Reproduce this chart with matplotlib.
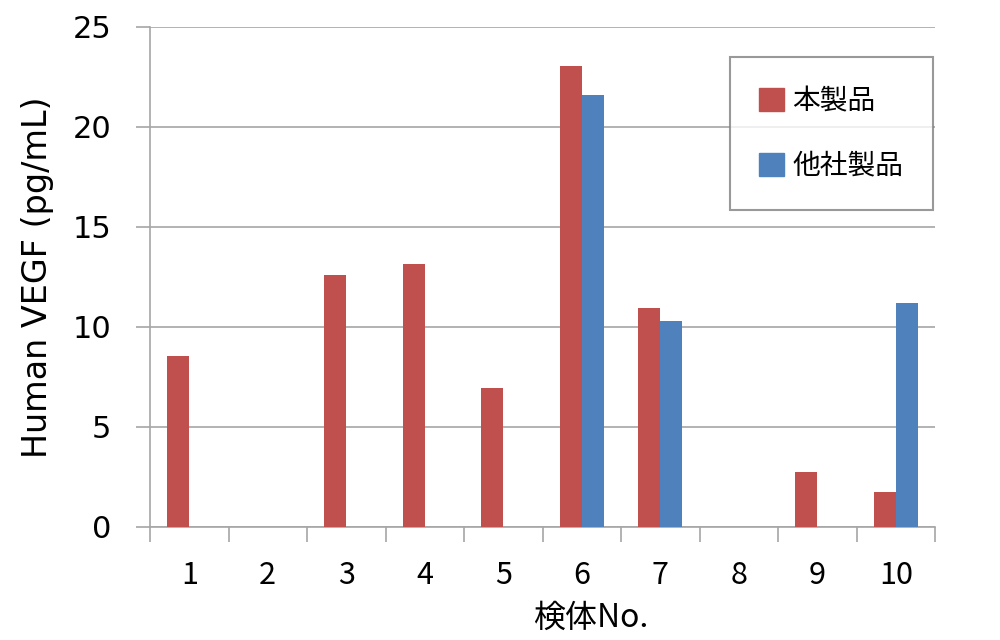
import matplotlib
matplotlib.use("Agg")
import matplotlib.pyplot as plt
import matplotlib.patches as mpatches
import numpy as np

plt.rcParams['font.family'] = ['DejaVu Sans', 'Noto Sans CJK JP']

# --- data ---
samples   = ["1", "2", "3", "4", "5", "6", "7", "8", "9", "10"]
ours      = [8.55, 0, 12.6, 13.15, 6.95, 23.05, 10.95, 0, 2.75, 1.75]
others    = [0, 0, 0, 0, 0, 21.6, 10.3, 0, 0, 11.2]
series_names = ["本製品", "他社製品"]

RED  = "#C0504D"
BLUE = "#4F81BD"
GRID = "#A6A6A6"
JP   = ['Noto Sans CJK JP', 'DejaVu Sans']

fig = plt.figure(figsize=(10, 6.4), dpi=100)
ax = fig.add_axes([0.15, 0.1766, 0.785, 0.7814])

x = np.arange(1, len(samples) + 1)
w = 0.28
ax.bar(x - w / 2, ours, w, color=RED, zorder=3)
ax.bar(x + w / 2, others, w, color=BLUE, zorder=3)

ax.set_xlim(0.5, len(samples) + 0.5)
ax.set_ylim(0, 25)
ax.set_yticks(range(0, 26, 5))
ax.yaxis.grid(True, color=GRID, linewidth=1.2, zorder=0)

# category labels at centres, tick marks on boundaries
ax.set_xticks(x)
ax.set_xticklabels(samples, fontsize=22, family=JP)
ax.tick_params(axis='x', which='major', length=0, pad=24)
ax.set_xticks(np.arange(0.5, len(samples) + 1), minor=True)
ax.tick_params(axis='x', which='minor', length=11, color=GRID, width=1.2, direction='out')
ax.tick_params(axis='y', length=10, color=GRID, width=1.2, pad=18)
for lbl in ax.get_yticklabels():
    lbl.set_family('DejaVu Sans')
    lbl.set_fontsize(22)

for s in ["top", "right"]:
    ax.spines[s].set_visible(False)
ax.spines["left"].set_color(GRID)
ax.spines["bottom"].set_color(GRID)
ax.spines["left"].set_linewidth(1.2)
ax.spines["bottom"].set_linewidth(1.2)

ax.set_ylabel("Human VEGF (pg/mL)", fontsize=24, family='DejaVu Sans')
ax.yaxis.set_label_coords(-0.122, 0.50)
ax.set_xlabel("検体No.", fontsize=23, family=JP)
ax.xaxis.set_label_coords((591 - 150) / 785, -0.15)

handles = [mpatches.Patch(color=RED, label=series_names[0]),
           mpatches.Patch(color=BLUE, label=series_names[1])]
leg = ax.legend(handles=handles, loc="upper left", bbox_to_anchor=(0.739, 0.94),
                prop={'family': JP, 'size': 20},
                frameon=True, fancybox=False, edgecolor="#808080",
                handlelength=0.9, handleheight=0.9, handletextpad=0.3,
                labelspacing=1.25, borderpad=1.05, borderaxespad=0)
leg.get_frame().set_linewidth(1.5)

fig.savefig("out.png", dpi=100)
